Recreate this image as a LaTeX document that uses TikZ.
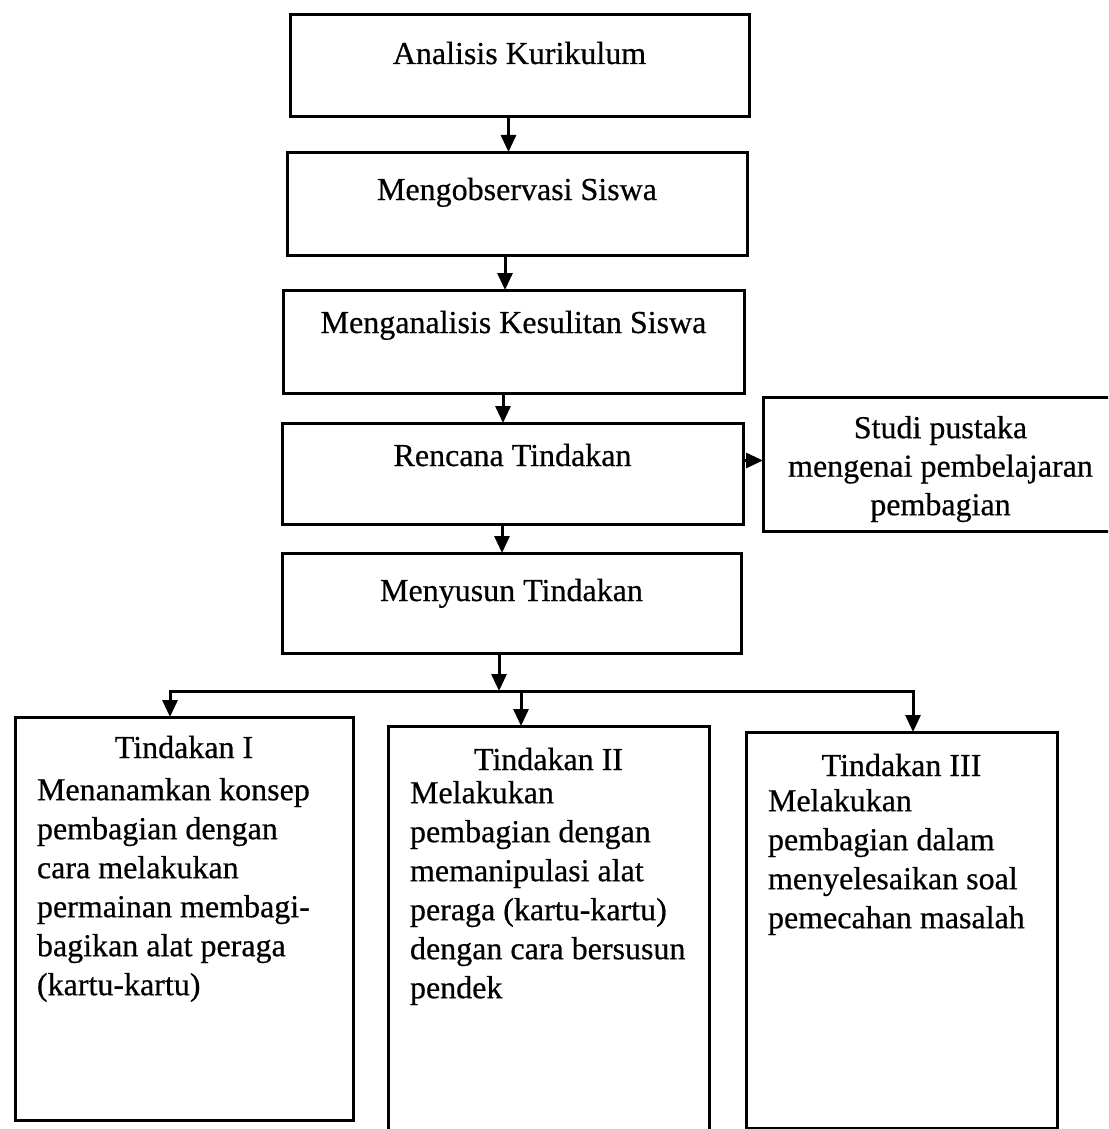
\documentclass[tikz,border=0pt]{standalone}
\usepackage{fontspec}
\setmainfont{Liberation Serif}
\newfontfamily\scanfont{Liberation Serif}[FakeBold=0.5]
\usetikzlibrary{arrows.meta}
\begin{document}
\begin{tikzpicture}[x=1pt,y=-1pt,
  box/.style={draw, line width=3pt, rectangle, inner sep=0pt, outer sep=0pt},
  lbl/.style={font=\scanfont\fontsize{32}{39}\selectfont, inner sep=0pt, outer sep=0pt},
  sidelbl/.style={font=\scanfont\fontsize{32}{38.5}\selectfont, inner sep=0pt, outer sep=0pt},
  arr/.style={line width=3pt, line cap=rect, -{Triangle[length=17pt,width=15pt]}},
  ln/.style={line width=3pt, line cap=rect}]
\useasboundingbox (0,0) rectangle (1108,1129);
\clip (0,0) rectangle (1108,1129);

% top chain boxes
\node[box, minimum width=459pt, minimum height=102pt] (b1) at (519.5,66) {};
\node[box, minimum width=460pt, minimum height=103pt] (b2) at (517,203.5) {};
\node[box, minimum width=461pt, minimum height=103pt] (b3) at (513.5,341.5) {};
\node[box, minimum width=461pt, minimum height=101pt] (b4) at (512.5,473.5) {};
\node[box, minimum width=355pt, minimum height=134pt] (side) at (940.5,464) {};
\node[box, minimum width=459pt, minimum height=100pt] (b5) at (511.5,603) {};

% bottom boxes
\node[box, minimum width=338pt, minimum height=403pt] (tA) at (184,918.5) {};
\node[box, minimum width=321pt, minimum height=414pt] (tB) at (548.5,933) {};
\node[box, minimum width=311pt, minimum height=396pt] (tC) at (901.5,930) {};

% labels
\node[lbl, anchor=base] (l1) at ([yshift=-49pt]b1.north) {Analisis Kurikulum};
\node[lbl, anchor=base] (l2) at ([yshift=-48pt]b2.north) {Mengobservasi Siswa};
\node[lbl, anchor=base] (l3) at ([yshift=-43pt]b3.north) {Menganalisis Kesulitan Siswa};
\node[lbl, anchor=base] (l4) at ([yshift=-43pt]b4.north) {Rencana Tindakan};
\node[lbl, anchor=base] (l5) at ([yshift=-48pt]b5.north) {Menyusun Tindakan};
\node[sidelbl, align=center, anchor=north] (ls) at ([yshift=-19pt]side.north)
  {Studi pustaka\\mengenai pembelajaran\\pembagian};

\node[lbl, anchor=base] (tAt) at ([yshift=-41pt]tA.north) {Tindakan I};
\node[lbl, anchor=north west, align=left] (tAb) at ([xshift=22pt,yshift=-61pt]tA.north west)
  {Menanamkan konsep\\pembagian dengan\\cara melakukan\\permainan membagi-\\bagikan alat peraga\\(kartu-kartu)};

\node[lbl, anchor=base] (tBt) at ([yshift=-44pt]tB.north) {Tindakan II};
\node[lbl, anchor=north west, align=left] (tBb) at ([xshift=22pt,yshift=-55pt]tB.north west)
  {Melakukan\\pembagian dengan\\memanipulasi alat\\peraga (kartu-kartu)\\dengan cara bersusun\\pendek};

\node[lbl, anchor=base] (tCt) at ([yshift=-44pt]tC.north) {Tindakan III};
\node[lbl, anchor=north west, align=left] (tCb) at ([xshift=22pt,yshift=-57pt]tC.north west)
  {Melakukan\\pembagian dalam\\menyelesaikan soal\\pemecahan masalah};

% chain arrows
\draw[arr] ([xshift=-11pt]b1.south) -- ([xshift=-11pt]b1.south |- b2.north);
\draw[arr] ([xshift=-12pt]b2.south) -- ([xshift=-12pt]b2.south |- b3.north);
\draw[arr] ([xshift=-10.5pt]b3.south) -- ([xshift=-10.5pt]b3.south |- b4.north);
\draw[arr] ([xshift=-10.5pt]b4.south) -- ([xshift=-10.5pt]b4.south |- b5.north);
\draw[arr] ([yshift=13pt]b4.east) -- ([yshift=13pt]b4.east -| side.west);

% distribution
\coordinate (hl) at (170,691);
\coordinate (hr) at (913,691);
\coordinate (jm) at (499,691);
\coordinate (jB) at (521,691);
\draw[arr] (b5.south -| jm) -- (jm);
\draw[ln] (hl) -- (hr);
\draw[arr] (hl) -- (hl |- tA.north);
\draw[arr] (jB) -- (jB |- tB.north);
\draw[arr] (hr) -- (hr |- tC.north);
\end{tikzpicture}
\end{document}
